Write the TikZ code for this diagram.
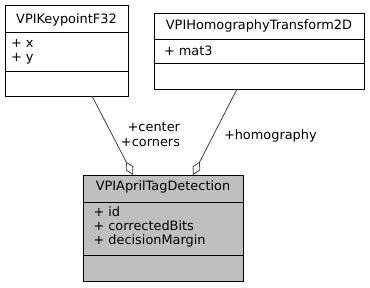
\documentclass[tikz,border=0pt]{standalone}
\usepackage{fontspec}
\setmainfont{DejaVu Sans}
\usetikzlibrary{arrows.meta,calc}
\definecolor{edgegray}{HTML}{404040}
\definecolor{boxfill}{HTML}{BFBFBF}
\begin{document}
\begin{tikzpicture}[x=1pt,y=-1pt,
  every node/.style={font=\fontsize{12.9}{14}\selectfont, inner sep=0pt, outer sep=0pt},
  classbox/.style={draw=black, line width=0.9pt, anchor=north west, rectangle},
  sepline/.style={draw=black, line width=0.9pt},
  txt/.style={anchor=base west},
  ttl/.style={anchor=base},
  assoc/.style={draw=edgegray, line width=0.8pt, -{Diamond[open,length=15pt,width=8.5pt]}},
  lbl/.style={text=black}]
\useasboundingbox (0,0) rectangle (370,287);
% Box 1
\node[classbox, minimum width=123pt, minimum height=91pt] (b1) at (5,5) {};
\draw[sepline] (5,32) -- (128,32);
\draw[sepline] (5,71) -- (128,71);
\node[ttl] (b1t) at (66.5,23.2) {VPIKeypointF32};
\node[txt] (b1a) at (11,47.3) {+ x};
\node[txt] (b1b) at (11,61.3) {+ y};
% Box 2
\node[classbox, minimum width=210pt, minimum height=76pt] (b2) at (154,13) {};
\draw[sepline] (154,39) -- (364,39);
\draw[sepline] (154,63) -- (364,63);
\node[ttl] (b2t) at (259,29.3) {VPIHomographyTransform2D};
\node[txt] (b2a) at (164,55.3) {+ mat3};
% Box 3
\node[classbox, fill=boxfill, minimum width=160pt, minimum height=106pt] (b3) at (83,175) {};
\draw[sepline] (83,202) -- (243,202);
\draw[sepline] (83,255) -- (243,255);
\node[ttl] (b3t) at (163,190.7) {VPIAprilTagDetection};
\node[txt] (b3a) at (93.5,216.7) {+ id};
\node[txt] (b3b) at (93.5,230.7) {+ correctedBits};
\node[txt] (b3c) at (93.5,244.7) {+ decisionMargin};
% Connectors
\draw[assoc] ($(b1.south west)+(87,0)$) -- ($(b3.north west)+(50,0)$);
\draw[assoc] ($(b2.south west)+(83,0)$) -- ($(b3.north west)+(110,0)$);
\node[lbl, anchor=base east] (l1) at (180,131.7) {+center};
\node[lbl, anchor=base east] (l2) at (180,146.7) {+corners};
\node[lbl, anchor=base west] (l3) at (224,139.3) {+homography};
\end{tikzpicture}
\end{document}
